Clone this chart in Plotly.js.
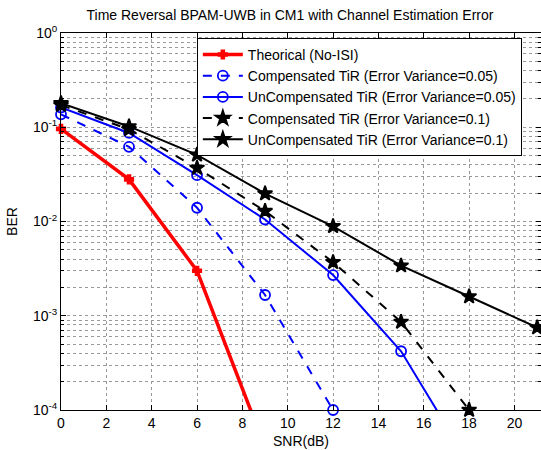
<!DOCTYPE html>
<html><head><meta charset="utf-8">
<script src="https://cdn.plot.ly/plotly-3.0.1.min.js"></script>
<style>html,body{margin:0;padding:0;background:#fff}#chart{width:541px;height:450px}</style>
</head><body><div id="chart"></div>
<script>
var snr = [0, 3, 6, 9, 12, 15, 18, 21];
var theorical = [0.096, 0.028, 0.0030, 0.00004];
var compVar005 = [0.137, 0.062, 0.0140, 0.00166, 0.0001];
var uncompVar005 = [0.162, 0.087, 0.031, 0.0105, 0.0027, 0.00042, 0.000027];
var compVar01 = [0.172, 0.095, 0.037, 0.0129, 0.0037, 0.00086, 0.0001];
var uncompVar01 = [0.180, 0.102, 0.051, 0.0198, 0.0089, 0.0034, 0.0016, 0.00075];
var names = ['Theorical (No-ISI)', 'Compensated TiR (Error Variance=0.05)', 'UnCompensated TiR (Error Variance=0.05)', 'Compensated TiR (Error Variance=0.1)', 'UnCompensated TiR (Error Variance=0.1)'];
var yTickVals = [1e-4, 1e-3, 1e-2, 1e-1, 1];
var yTickText = ['10<sup>-4</sup>', '10<sup>-3</sup>', '10<sup>-2</sup>', '10<sup>-1</sup>', '10<sup>0</sup>'];
var xTickVals = [0, 2, 4, 6, 8, 10, 12, 14, 16, 18, 20];

function tr(y, name, color, dash, width, sym, size, fill) {
  return {
    x: snr.slice(0, y.length), y: y, name: name, type: 'scatter', mode: 'lines+markers',
    cliponaxis: false,
    line: {color: color, dash: dash, width: width},
    marker: {symbol: sym, size: size, color: fill, line: {color: color, width: 1.8}}
  };
}
var data = [
  tr(theorical, names[0], '#ff0000', 'solid', 3.5, 'cross', 7, '#ff0000'),
  tr(compVar005, names[1], '#0000ff', 'dash', 2, 'circle-open', 10, '#0000ff'),
  tr(uncompVar005, names[2], '#0000ff', 'solid', 2, 'circle-open', 10, '#0000ff'),
  tr(compVar01, names[3], '#000000', 'dash', 2, 'star', 11, '#000000'),
  tr(uncompVar01, names[4], '#000000', 'solid', 2, 'star', 11, '#000000')
];
var gridc = '#999999';
var layout = {
  width: 541, height: 450,
  margin: {l: 61, r: 0, t: 33, b: 40},
  paper_bgcolor: '#fff', plot_bgcolor: '#fff',
  font: {family: 'Arial, Liberation Sans, sans-serif', size: 14, color: '#000'},
  title: {text: 'Time Reversal BPAM-UWB in CM1 with Channel Estimation Error', font: {size: 14}, x: 0.536, xanchor: 'center', y: 0.967, yanchor: 'middle'},
  showlegend: true,
  legend: {x: 0.283, y: 0.987, xanchor: 'left', yanchor: 'top', bordercolor: '#000', borderwidth: 1, bgcolor: '#fff', font: {size: 14}, tracegroupgap: 0, itemwidth: 40},
  xaxis: {
    range: [0, 21.17], tickvals: xTickVals, ticks: 'inside', ticklen: 5, tickcolor: '#000',
    showline: true, linecolor: '#000', linewidth: 1, mirror: 'ticks',
    showgrid: true, gridcolor: gridc, griddash: 'dot', gridwidth: 1, zeroline: false,
    title: {text: 'SNR(dB)', font: {size: 14}, standoff: 6}, tickfont: {size: 14}
  },
  yaxis: {
    type: 'log', range: [-4, 0], tickvals: yTickVals, ticktext: yTickText,
    ticks: 'inside', ticklen: 5, tickcolor: '#000',
    showline: true, linecolor: '#000', linewidth: 1, mirror: 'ticks',
    showgrid: true, gridcolor: gridc, griddash: 'dot', gridwidth: 1, zeroline: false,
    minor: {dtick: 'D1', ticks: 'inside', ticklen: 3, tickcolor: '#000', showgrid: true, gridcolor: gridc, griddash: 'dot', gridwidth: 1},
    title: {text: 'BER', font: {size: 14}, standoff: 12}, tickfont: {size: 14}
  }
};
Plotly.newPlot('chart', data, layout, {displayModeBar: false, staticPlot: true});
</script></body></html>
